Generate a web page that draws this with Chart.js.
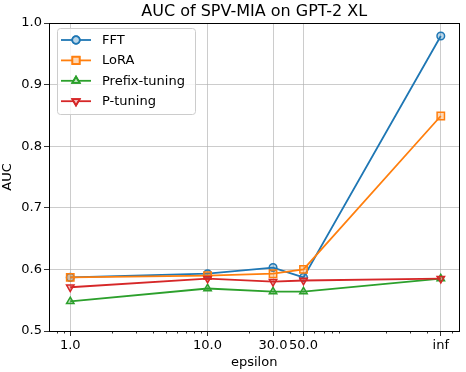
<!DOCTYPE html>
<html>
<head>
<meta charset="utf-8">
<script src="https://cdn.jsdelivr.net/npm/chart.js@4/dist/chart.umd.min.js"></script>
<style>
  html, body { margin: 0; padding: 0; background: #fff; }
  canvas { display: block; }
</style>
</head>
<body>
<canvas id="grafico" width="466" height="372"></canvas>
<script>
const epsilons = [1, 10, 30, 50, 500];
const etiquetasX = ['1.0', '10.0', '30.0', '50.0', 'inf'];
const fft = [0.587, 0.593, 0.603, 0.587, 0.979];
const lora = [0.587, 0.590, 0.593, 0.600, 0.849];
const prefixTuning = [0.548, 0.569, 0.564, 0.564, 0.585];
const pTuning = [0.571, 0.585, 0.580, 0.582, 0.585];
const menoresX = [0.8, 0.9, 2, 3, 4, 5, 6, 7, 8, 9, 20, 40, 60, 70, 80, 90, 200, 300, 400, 600];

const fuente = 'DejaVu Sans';
Chart.defaults.color = '#000';
Chart.defaults.font.family = fuente;

const puntos = vals => vals.map((v, i) => ({ x: epsilons[i], y: v }));

const series = [
  { label: 'FFT', data: fft, color: '#1f77b4', fill: 'rgba(31,119,180,0.3)', estilo: 'circle', radio: 3.8, rot: 0 },
  { label: 'LoRA', data: lora, color: '#ff7f0e', fill: 'rgba(255,127,14,0.3)', estilo: 'rect', radio: 5.2, rot: 0 },
  { label: 'Prefix-tuning', data: prefixTuning, color: '#2ca02c', fill: 'rgba(44,160,44,0.3)', estilo: 'triangle', radio: 4.3, rot: 0 },
  { label: 'P-tuning', data: pTuning, color: '#d62728', fill: 'rgba(214,39,40,0.3)', estilo: 'triangle', radio: 4.3, rot: 180 }
];

const marco = {
  id: 'marco',
  afterDraw(chart) {
    const { ctx, chartArea: a, scales } = chart;
    ctx.save();
    // minor ticks on the log axis
    ctx.strokeStyle = '#000';
    ctx.lineWidth = 0.8;
    menoresX.forEach(v => {
      const x = Math.round(scales.x.getPixelForValue(v)) + 0.5;
      ctx.beginPath();
      ctx.moveTo(x, a.bottom);
      ctx.lineTo(x, a.bottom + 2.5);
      ctx.stroke();
    });
    // frame
    ctx.lineWidth = 1;
    ctx.strokeRect(Math.round(a.left) + 0.5, Math.round(a.top) + 0.5, Math.round(a.right - a.left), Math.round(a.bottom - a.top));
    // title
    ctx.fillStyle = '#000';
    ctx.font = '16px "' + fuente + '"';
    ctx.textAlign = 'center';
    ctx.textBaseline = 'alphabetic';
    ctx.fillText('AUC of SPV-MIA on GPT-2 XL', (a.left + a.right) / 2, 16);
    // legend
    const lx = 57, ly = 28.5, lw = 138, lh = 86;
    ctx.fillStyle = 'rgba(255,255,255,0.8)';
    ctx.strokeStyle = '#cccccc';
    ctx.lineWidth = 1;
    ctx.beginPath();
    ctx.roundRect(lx + 0.5, ly, lw, lh, 3);
    ctx.fill();
    ctx.stroke();
    series.forEach((s, i) => {
      const y = 40 + i * 20.4;
      ctx.strokeStyle = s.color;
      ctx.lineWidth = 1.8;
      ctx.beginPath();
      ctx.moveTo(61, y);
      ctx.lineTo(91, y);
      ctx.stroke();
      ctx.fillStyle = '#fff';
      Chart.helpers.drawPoint(ctx, { pointStyle: s.estilo, radius: s.radio, rotation: s.rot, borderWidth: 1.5 }, 76, y);
      ctx.fillStyle = s.fill;
      ctx.strokeStyle = s.color;
      ctx.lineWidth = 1.5;
      Chart.helpers.drawPoint(ctx, { pointStyle: s.estilo, radius: s.radio, rotation: s.rot, borderWidth: 1.5 }, 76, y);
      ctx.fillStyle = '#000';
      ctx.font = '13px "' + fuente + '"';
      ctx.textAlign = 'left';
      ctx.textBaseline = 'middle';
      ctx.fillText(s.label, 102, y + 0.5);
    });
    ctx.restore();
  }
};

new Chart(document.getElementById('grafico'), {
  type: 'line',
  data: {
    datasets: series.map((s, i) => ({
      label: s.label,
      data: puntos(s.data),
      borderColor: s.color,
      backgroundColor: s.fill,
      borderWidth: 1.8,
      pointStyle: s.estilo,
      pointRadius: s.radio,
      pointRotation: s.rot,
      pointBorderWidth: 1.5,
      pointBorderColor: s.color,
      pointBackgroundColor: s.fill,
      tension: 0,
      order: series.length - 1 - i
    }))
  },
  options: {
    responsive: false,
    animation: false,
    events: [],
    layout: { padding: { top: 23, right: 3, left: 0, bottom: 0 } },
    plugins: {
      legend: { display: false },
      title: { display: false },
      tooltip: { enabled: false }
    },
    scales: {
      x: {
        type: 'logarithmic',
        min: 0.733,
        max: 682,
        afterBuildTicks: scale => { scale.ticks = epsilons.map(v => ({ value: v })); },
        afterFit: scale => { scale.height = 41; },
        ticks: {
          autoSkip: false,
          maxRotation: 0,
          padding: 2,
          font: { size: 13 },
          callback: (value) => {
            const i = epsilons.indexOf(value);
            return i >= 0 ? etiquetasX[i] : '';
          }
        },
        grid: { color: 'rgba(176,176,176,0.65)', lineWidth: 1, tickLength: 5, tickColor: '#000', tickWidth: 0.8 },
        border: { display: false },
        title: { display: true, text: 'epsilon', font: { size: 13 }, padding: { top: 0, bottom: 2 } }
      },
      y: {
        min: 0.5,
        max: 1.0,
        afterFit: scale => { scale.width = 49; },
        ticks: {
          stepSize: 0.1,
          padding: 2,
          font: { size: 13 },
          callback: v => v.toFixed(1)
        },
        grid: { color: 'rgba(176,176,176,0.65)', lineWidth: 1, tickLength: 5, tickColor: '#000', tickWidth: 0.8 },
        border: { display: false },
        title: { display: true, text: 'AUC', font: { size: 13 }, padding: { top: 0, bottom: 2 } }
      }
    }
  },
  plugins: [marco]
});
</script>
</body>
</html>
